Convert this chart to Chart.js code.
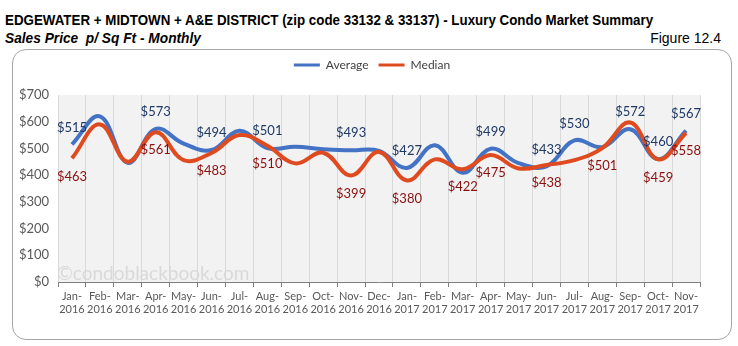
<!DOCTYPE html>
<html>
<head>
<meta charset="utf-8">
<script src="https://cdn.jsdelivr.net/npm/chart.js@4.4.1/dist/chart.umd.min.js"></script>
<style>
  body { margin: 0; background: #fff; }
  #wrap { position: relative; width: 738px; height: 346px; overflow: hidden; }
  .title { position: absolute; left: 5px; top: 11px; font: bold 15px "Liberation Sans Narrow", "Arial Narrow", "Liberation Sans", sans-serif; color: #000; white-space: nowrap; transform: scaleX(0.89); transform-origin: left top; }
  .sub { position: absolute; left: 5px; top: 30px; font: italic bold 14px "Liberation Sans Narrow", "Arial Narrow", "Liberation Sans", sans-serif; color: #000; white-space: nowrap; transform: scaleX(0.98); transform-origin: left top; }
  .fig { position: absolute; right: 17px; top: 30px; font: 14px "Liberation Sans Narrow", "Arial Narrow", "Liberation Sans", sans-serif; color: #000; }
  .box { position: absolute; left: 12px; top: 49px; width: 718px; height: 289px; border: 1px solid #a6a6a6; border-radius: 14px; }
  canvas { position: absolute; left: 0; top: 0; }
</style>
</head>
<body>
<div id="wrap">
  <div class="title">EDGEWATER + MIDTOWN + A&amp;E DISTRICT (zip code 33132 &amp; 33137) - Luxury Condo Market Summary</div>
  <div class="sub">Sales Price&nbsp; p/ Sq Ft - Monthly</div>
  <div class="fig">Figure 12.4</div>
  <div class="box"></div>
  <canvas id="chart" width="738" height="346"></canvas>
</div>
<script>
// Sales price per sq ft, monthly

const months = [
  ['Jan-', '2016'], ['Feb-', '2016'], ['Mar-', '2016'], ['Apr-', '2016'], ['May-', '2016'], ['Jun-', '2016'],
  ['Jul-', '2016'], ['Aug-', '2016'], ['Sep-', '2016'], ['Oct-', '2016'], ['Nov-', '2016'], ['Dec-', '2016'],
  ['Jan-', '2017'], ['Feb-', '2017'], ['Mar-', '2017'], ['Apr-', '2017'], ['May-', '2017'], ['Jun-', '2017'],
  ['Jul-', '2017'], ['Aug-', '2017'], ['Sep-', '2017'], ['Oct-', '2017'], ['Nov-', '2017']
];

const average = [515, 620, 446, 573, 518, 494, 566, 501, 506, 497, 493, 491, 427, 512, 409, 499, 445, 433, 530, 505, 572, 460, 567];
const median  = [463, 590, 450, 561, 456, 483, 550, 510, 444, 484, 399, 487, 380, 459, 422, 475, 425, 438, 456, 501, 597, 459, 558];

// which points get a value label
const averageShown = [1,0,0,1,0,1,0,1,0,0,1,0,1,0,0,1,0,1,1,0,1,1,1];
const medianShown  = [1,0,0,1,0,1,0,1,0,0,1,0,1,0,1,1,0,1,0,1,0,1,1];

const yTicks = [0, 100, 200, 300, 400, 500, 600, 700];

const ctx = document.getElementById('chart').getContext('2d');

const plotBackground = {
  id: 'plotBackground',
  beforeDraw(chart) {
    const a = chart.chartArea;
    const c = chart.ctx;
    c.save();
    c.fillStyle = '#f2f2f2';
    c.fillRect(a.left, a.top, a.right - a.left, a.bottom - a.top);
    c.restore();
  },
  beforeDatasetsDraw(chart) {
    const c = chart.ctx;
    c.save();
    c.font = '19px Lato';
    c.fillStyle = '#d9d9d9';
    c.textBaseline = 'middle';
    c.fillText('\u00a9condoblackbook.com', 57, 274);
    c.restore();
  }
};

const valueLabels = {
  id: 'valueLabels',
  afterDatasetsDraw(chart) {
    const c = chart.ctx;
    const shown = [averageShown, medianShown];
    const colours = ['#1f3864', '#8b0f0f'];
    const offset = [-17, 18];
    c.save();
    c.font = '13px Lato';
    c.textAlign = 'center';
    c.textBaseline = 'middle';
    chart.data.datasets.forEach((ds, i) => {
      const meta = chart.getDatasetMeta(i);
      meta.data.forEach((pt, j) => {
        if (!shown[i][j]) return;
        c.fillStyle = colours[i];
        c.fillText('$' + ds.data[j], pt.x, pt.y + offset[i]);
      });
    });
    c.restore();
  }
};

const myLineChart = new Chart(ctx, {
  type: 'line',
  data: {
    labels: months,
    datasets: [{
      label: 'Average',
      data: average,
      borderColor: '#4472c4',
      backgroundColor: '#4472c4',
      borderWidth: 4,
      tension: 0.4,
      pointRadius: 0,
      order: 1
    }, {
      label: 'Median',
      data: median,
      borderColor: '#df4a1f',
      backgroundColor: '#df4a1f',
      borderWidth: 4,
      tension: 0.4,
      pointRadius: 0,
      order: 0
    }]
  },
  plugins: [plotBackground, valueLabels],
  options: {
    responsive: false,
    animation: false,
    layout: {
      padding: { top: 49, right: 38, left: 44, bottom: 0 }
    },
    scales: {
      x: {
        offset: true,
        grid: {
          offset: true,
          color: '#d9d9d9',
          tickColor: '#808080',
          tickLength: 5
        },
        border: { color: '#808080' },
        ticks: {
          color: '#595959',
          font: { family: 'Lato', size: 11 },
          maxRotation: 0,
          autoSkip: false,
          padding: 3
        },
        afterFit(scale) { scale.height = 64; }
      },
      y: {
        min: 0,
        max: 700,
        afterBuildTicks(scale) { scale.ticks = yTicks.map(v => ({ value: v })); },
        grid: { display: false },
        border: { display: false },
        ticks: {
          color: '#595959',
          font: { family: 'Lato', size: 13 },
          // mirrored so the labels are not clipped to the narrow axis box
          mirror: true,
          crossAlign: 'far',
          padding: -39,
          callback: function(value) {
            return '$' + value;
          }
        },
        afterFit(scale) { scale.width = 14; }
      }
    },
    plugins: {
      legend: {
        labels: {
          color: '#404040',
          font: { family: 'Lato', size: 12 },
          usePointStyle: true,
          pointStyle: 'line',
          pointStyleWidth: 26,
          boxHeight: 12,
          padding: 10,
          sort: (a, b) => a.datasetIndex - b.datasetIndex,
          generateLabels: (chart) => Chart.defaults.plugins.legend.labels.generateLabels(chart)
            .map(item => Object.assign(item, { lineWidth: 3 }))
        }
      },
      // empty spacer under the legend
      subtitle: {
        display: true,
        text: '',
        weight: 500,
        font: { size: 10 },
        padding: { top: 0, bottom: 2 }
      },
      tooltip: { enabled: false }
    }
  }
});
</script>
</body>
</html>
